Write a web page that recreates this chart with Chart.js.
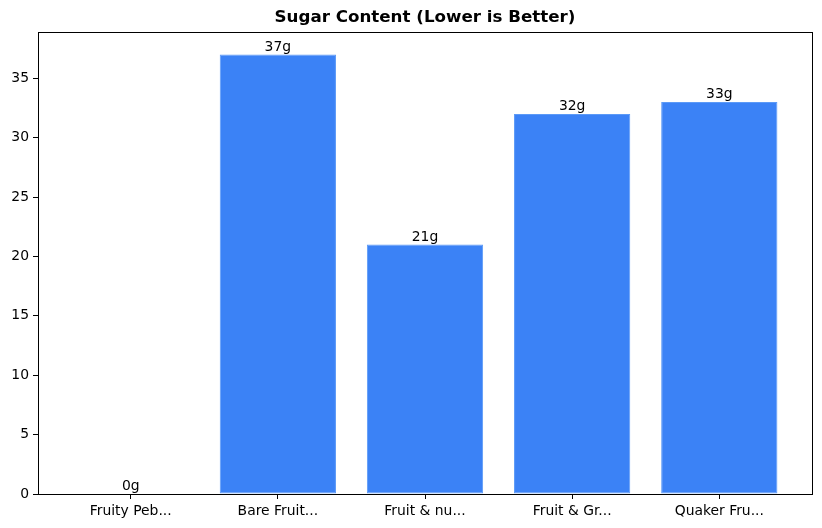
<!DOCTYPE html>
<html>
<head>
<meta charset="utf-8">
<script src="https://cdn.jsdelivr.net/npm/chart.js@4/dist/chart.umd.min.js"></script>
<style>
  html, body { margin: 0; padding: 0; background: #fff; }
  #wrap { width: 822px; height: 528px; }
</style>
</head>
<body>
<div id="wrap"><canvas id="sugar-chart" width="822" height="528"></canvas></div>
<script>
const categories = ['Fruity Peb...', 'Bare Fruit...', 'Fruit & nu...', 'Fruit & Gr...', 'Quaker Fru...'];
const sugarGrams = [0, 37, 21, 32, 33];
const yTicks = [0, 5, 10, 15, 20, 25, 30, 35];

const FONT = 'DejaVu Sans';
const chartCanvas = document.getElementById('sugar-chart');

// outline the full axes box like the matplotlib spines
const frameBox = {
  id: 'frameBox',
  afterDraw: (chart) => {
    const { ctx, chartArea: a } = chart;
    ctx.save();
    ctx.strokeStyle = '#000';
    ctx.lineWidth = 1;
    ctx.strokeRect(Math.round(a.left) + 0.5, Math.round(a.top) + 0.5,
      Math.round(a.right - a.left), Math.round(a.bottom - a.top));
    ctx.restore();
  },
};

const valueLabels = {
  id: 'valueLabels',
  afterDatasetsDraw: (chart) => {
    const { ctx } = chart;
    const meta = chart.getDatasetMeta(0);
    ctx.save();
    ctx.font = `13.9px "${FONT}"`;
    ctx.fillStyle = '#000';
    ctx.textAlign = 'center';
    ctx.textBaseline = 'bottom';
    meta.data.forEach((bar, i) => {
      ctx.fillText(`${sugarGrams[i]}g`, bar.x, bar.y - 0.5);
    });
    ctx.restore();
  },
};

new Chart(chartCanvas, {
  type: 'bar',
  data: {
    datasets: [{
      data: sugarGrams.map((v, i) => ({ x: i, y: v })),
      backgroundColor: '#3b82f6',
      borderColor: '#5c9af7',
      borderWidth: 1,
      borderSkipped: false,
      barPercentage: 0.79,
      categoryPercentage: 1,
    }],
  },
  options: {
    responsive: false,
    animation: false,
    layout: { padding: { left: 0, right: 10, top: 0, bottom: 0 } },
    plugins: {
      legend: { display: false },
      tooltip: { enabled: false },
      title: {
        display: true,
        fullSize: false,
        text: 'Sugar Content (Lower is Better)',
        color: '#000',
        font: { family: FONT, size: 16.7, weight: 'bold', lineHeight: 1.2 },
        padding: { top: 8, bottom: 4 },
      },
    },
    scales: {
      x: {
        type: 'linear',
        offset: false,
        min: -0.63,
        max: 4.63,
        afterBuildTicks: (scale) => {
          scale.ticks = categories.map((_, i) => ({ value: i }));
        },
        afterFit: (scale) => { scale.height = 34; },
        ticks: {
          color: '#000',
          font: { family: FONT, size: 13.9 },
          padding: 4,
          maxRotation: 0,
          autoSkip: false,
          callback: (value) => categories[value] ?? '',
        },
        grid: { offset: false, drawOnChartArea: false, drawTicks: true, tickLength: 5, color: '#000' },
        border: { color: '#000', width: 1 },
      },
      y: {
        min: 0,
        max: 38.9,
        afterBuildTicks: (scale) => {
          scale.ticks = yTicks.map((v) => ({ value: v }));
        },
        afterFit: (scale) => { scale.width = 38; },
        ticks: {
          color: '#000',
          font: { family: FONT, size: 13.9 },
          padding: 4,
        },
        grid: { drawOnChartArea: false, drawTicks: true, tickLength: 5, color: '#000' },
        border: { color: '#000', width: 1 },
      },
    },
  },
  plugins: [valueLabels, frameBox],
});
</script>
</body>
</html>
